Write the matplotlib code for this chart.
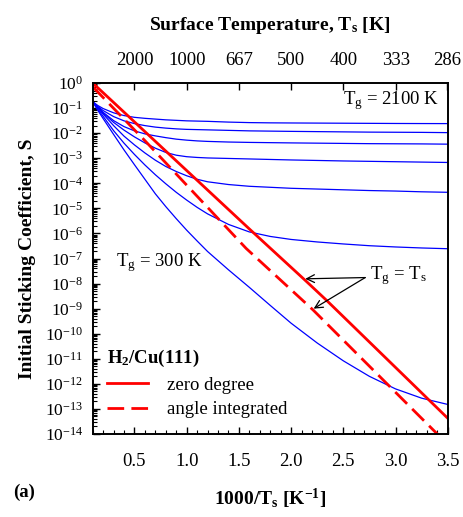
import numpy as np
import matplotlib
matplotlib.use("Agg")
import matplotlib.pyplot as plt
from matplotlib.ticker import LogLocator, MultipleLocator, NullLocator, NullFormatter

plt.rcParams['font.family'] = 'serif'
plt.rcParams['font.serif'] = ['Liberation Serif', 'DejaVu Serif']
plt.rcParams['mathtext.fontset'] = 'custom'
plt.rcParams['mathtext.rm'] = 'Liberation Serif'
plt.rcParams['mathtext.it'] = 'Liberation Serif:italic'
plt.rcParams['mathtext.bf'] = 'Liberation Serif:bold'

# x = 1000/Ts [1/K]; curves stored as log10(S)
x_blue = [0.1, 0.15, 0.2, 0.3, 0.4, 0.5, 0.6, 0.7, 0.8, 0.9, 1.0, 1.1, 1.2,
          1.4, 1.6, 1.8, 2.0, 2.25, 2.5, 2.75, 3.0, 3.25, 3.5]
# Tg = 2100 K (top) ... 300 K (bottom)
logS_tg1 = [-0.75, -0.90, -1.02, -1.19, -1.30, -1.37, -1.41, -1.44, -1.47, -1.49, -1.51, -1.52, -1.53,
            -1.56, -1.58, -1.59, -1.595, -1.60, -1.605, -1.61, -1.615, -1.618, -1.62]
logS_tg2 = [-0.75, -0.94, -1.10, -1.34, -1.51, -1.62, -1.70, -1.76, -1.80, -1.83, -1.85, -1.86, -1.87,
            -1.89, -1.91, -1.92, -1.93, -1.94, -1.95, -1.96, -1.965, -1.97, -1.98]
logS_tg3 = [-0.75, -0.97, -1.17, -1.50, -1.74, -1.91, -2.03, -2.11, -2.18, -2.24, -2.28, -2.31, -2.33,
            -2.355, -2.37, -2.38, -2.39, -2.40, -2.41, -2.42, -2.425, -2.43, -2.44]
logS_tg4 = [-0.75, -0.98, -1.20, -1.57, -1.88, -2.15, -2.39, -2.60, -2.77, -2.88, -2.94, -2.97, -2.99,
            -3.01, -3.03, -3.05, -3.07, -3.09, -3.11, -3.125, -3.14, -3.155, -3.17]
logS_tg5 = [-0.75, -1.00, -1.24, -1.70, -2.12, -2.47, -2.79, -3.08, -3.33, -3.53, -3.70, -3.84, -3.94,
            -4.05, -4.12, -4.16, -4.20, -4.23, -4.26, -4.29, -4.31, -4.34, -4.36]
logS_tg6 = [-0.75, -1.05, -1.33, -1.90, -2.40, -2.85, -3.27, -3.66, -4.02, -4.36, -4.67, -4.96, -5.22,
            -5.64, -5.94, -6.12, -6.24, -6.34, -6.42, -6.49, -6.54, -6.58, -6.61]
logS_tg7 = [-0.75, -1.10, -1.42, -2.05, -2.67, -3.26, -3.84, -4.42, -4.93, -5.41, -5.87, -6.30, -6.72,
            -7.45, -8.15, -8.87, -9.58, -10.37, -11.08, -11.70, -12.20, -12.57, -12.82]
blue_curves = [logS_tg1, logS_tg2, logS_tg3, logS_tg4, logS_tg5, logS_tg6, logS_tg7]

# Tg = Ts
x_zero = [0.1, 1.6, 2.13, 2.34, 3.5]
logS_zero = [0.0, -5.82, -7.85, -8.67, -13.37]
x_angle = [0.1, 0.6, 1.57, 2.21, 3.41, 3.5]
logS_angle = [-0.15, -2.3, -6.6, -9.05, -14.04, -14.4]

top_temps = [2000, 1000, 667, 500, 400, 333, 286]

fig = plt.figure(figsize=(4.63, 5.17), dpi=100)
ax = fig.add_axes([0.2002, 0.1605, 0.7668, 0.679])

for ys in blue_curves:
    ax.plot(x_blue, 10 ** np.array(ys), color='#0000ff', lw=0.9)
ax.plot(x_zero, 10 ** np.array(logS_zero), color='#ff0000', lw=2, label='zero degree')
ax.plot(x_angle, 10 ** np.array(logS_angle), color='#ff0000', lw=2,
        ls=(0, (6, 2.6)), label='angle integrated')

ax.set_yscale('log')
ax.set_xlim(0.1, 3.5)
ax.set_ylim(1e-14, 1)
ax.yaxis.set_major_locator(LogLocator(base=10, numticks=20))
ax.yaxis.set_minor_locator(LogLocator(base=10, subs=range(2, 10), numticks=20))
ax.yaxis.set_minor_formatter(NullFormatter())
ax.xaxis.set_major_locator(MultipleLocator(0.5))
ax.xaxis.set_minor_locator(MultipleLocator(0.1))

ax.tick_params(axis='y', which='major', direction='in', length=5, width=1, labelsize=12.5, pad=7)
ax.tick_params(axis='y', which='minor', direction='in', length=3, width=0.8)
ax.tick_params(axis='x', which='major', direction='in', length=5, width=1, labelsize=13.5, pad=14)
ax.tick_params(axis='x', which='minor', direction='in', length=3, width=0.8)
for s in ax.spines.values():
    s.set_linewidth(1.2)

ax.set_xlabel('1000/T$_\\mathbf{s}$ [K$^{\\mathbf{-1}}$]', fontsize=14, fontweight='bold', labelpad=12)
ax.set_ylabel('Initial Sticking Coefficient, S', fontsize=14, fontweight='bold', labelpad=6)

ax2 = ax.twiny()
ax2.set_xlim(ax.get_xlim())
ax2.set_xticks([1000 / t for t in top_temps])
ax2.set_xticklabels([str(t) for t in top_temps])
ax2.xaxis.set_minor_locator(NullLocator())
ax2.tick_params(axis='x', direction='in', length=5, width=1, labelsize=13.5, pad=10)
ax2.set_xlabel('Surface Temperature, T$_\\mathbf{s}$ [K]', fontsize=14, fontweight='bold', labelpad=16)
for s in ax2.spines.values():
    s.set_linewidth(1.2)

ax.text(3.42, 10 ** -0.72, 'T$_\\mathrm{g}$ = 2100 K', ha='right', va='center', fontsize=13.5)
ax.text(0.32, 10 ** -7.15, 'T$_\\mathrm{g}$ = 300 K', ha='left', va='center', fontsize=13.5)
ax.text(2.76, 10 ** -7.68, 'T$_\\mathrm{g}$ = T$_\\mathrm{s}$', ha='left', va='center', fontsize=13.5)
arrow = dict(arrowstyle='->', color='black', lw=0.9, mutation_scale=14, shrinkA=0, shrinkB=0)
ax.annotate('', xy=(2.136, 10 ** -7.81), xytext=(2.71, 10 ** -7.76), arrowprops=arrow)
ax.annotate('', xy=(2.216, 10 ** -9.0), xytext=(2.71, 10 ** -7.76), arrowprops=arrow)

leg = ax.legend(loc='upper left', bbox_to_anchor=(0.04, 0.245), frameon=False,
                title='H$_\\mathbf{2}$/Cu(111)',
                title_fontproperties={'weight': 'bold', 'size': 13.5},
                alignment='left', handlelength=2.2, handletextpad=1.0,
                labelspacing=0.4, fontsize=13.5, borderpad=0, borderaxespad=0)

fig.text(0.028, 0.048, '(a)', fontsize=13.5, fontweight='bold', ha='left', va='center')

fig.savefig('out.png', dpi=100)
